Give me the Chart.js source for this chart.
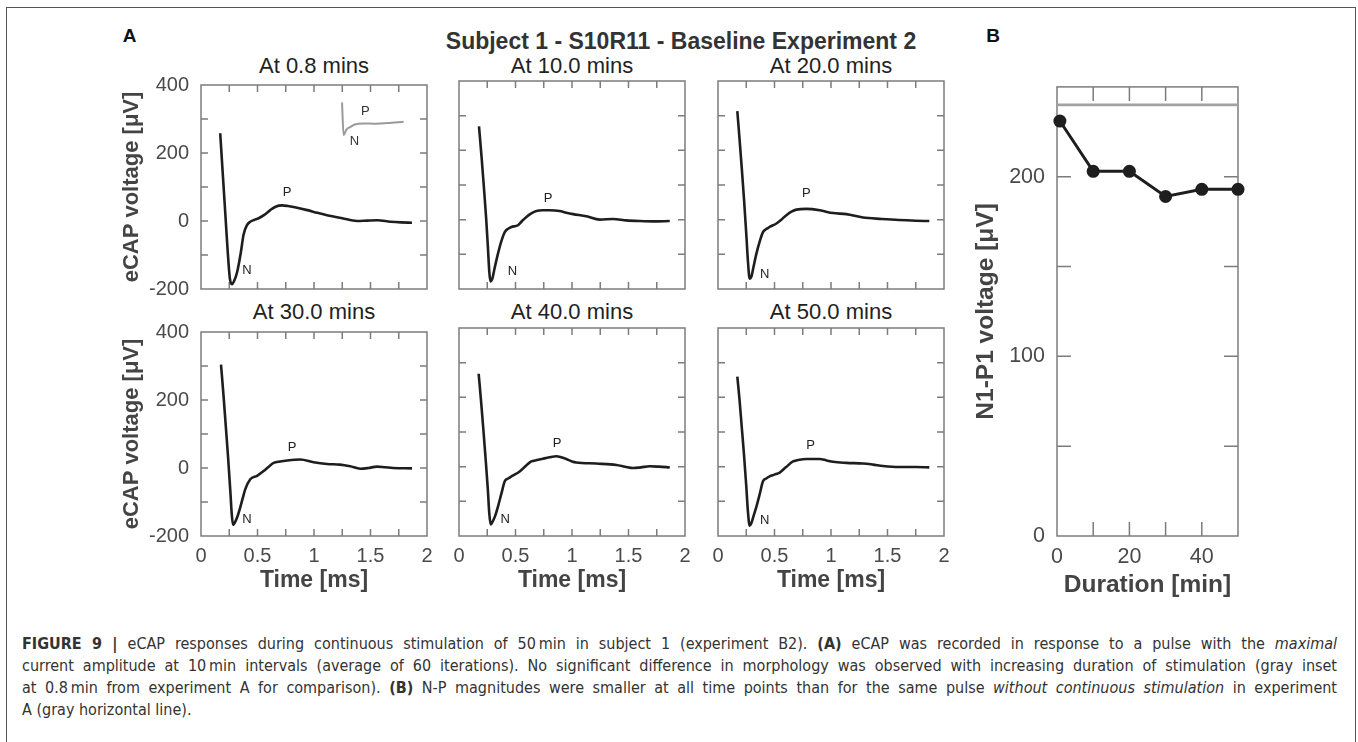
<!DOCTYPE html>
<html><head><meta charset="utf-8">
<script src="https://cdn.jsdelivr.net/npm/chart.js@4.4.1/dist/chart.umd.min.js"></script>
<style>
html,body{margin:0;padding:0;background:#fff;}
body{width:1358px;height:742px;position:relative;overflow:hidden;font-family:"Liberation Sans",Arial,sans-serif;}
.frame{position:absolute;left:6px;top:7px;width:1350px;height:800px;border:1.5px solid #555;border-bottom:none;box-sizing:border-box;}
canvas{position:absolute;}
.t{position:absolute;white-space:nowrap;color:#222;transform:translate(-50%,-50%);line-height:1;}
.cap{position:absolute;left:22px;white-space:nowrap;color:#333;font-family:"Liberation Sans Narrow","DejaVu Sans Condensed","Liberation Sans",sans-serif;font-size:16px;line-height:1;}
</style></head>
<body>
<div class="frame"></div>
<div class="t" style="left:129.5px;top:35px;font-weight:bold;font-size:19px;color:#111">A</div>
<div class="t" style="left:993px;top:35px;font-weight:bold;font-size:19px;color:#111">B</div>
<div class="t" style="left:681px;top:41px;font-weight:bold;font-size:23px;color:#333">Subject 1 - S10R11 - Baseline Experiment 2</div>
<div id="titles"></div>
<span class="cap just" style="top:636px"><b>FIGURE 9 |</b> eCAP responses during continuous stimulation of 50&thinsp;min in subject 1 (experiment B2). <b>(A)</b> eCAP was recorded in response to a pulse with the <i>maximal</i></span>
<span class="cap just" style="top:658px">current amplitude at 10&thinsp;min intervals (average of 60 iterations). No significant difference in morphology was observed with increasing duration of stimulation (gray inset</span>
<span class="cap just" style="top:680px">at 0.8&thinsp;min from experiment A for comparison). <b>(B)</b> N-P magnitudes were smaller at all time points than for the same pulse <i>without continuous stimulation</i> in experiment</span>
<span class="cap" style="top:702px">A (gray horizontal line).</span>
<script>
// ---------- DATA ----------
const panelTitles = ['At 0.8 mins','At 10.0 mins','At 20.0 mins','At 30.0 mins','At 40.0 mins','At 50.0 mins'];
const timeTickLabels = [0, 0.5, 1, 1.5, 2];
const voltTickLabels = [-200, 0, 200, 400];
const timeTickMarks = [0.25, 0.5, 0.75, 1, 1.25, 1.5, 1.75];
const voltTickMarks = [-100, 0, 100, 200, 300];

const t08 = [0.17,0.195,0.215,0.235,0.255,0.274,0.295,0.32,0.35,0.377,0.407,0.436,0.47,0.51,0.56,0.613,0.66,0.717,0.77,0.82,0.94,1.03,1.115,1.25,1.38,1.47,1.56,1.675,1.77,1.867];
const v08 = [258,127,22,-83,-168,-186,-175,-150,-98,-40,-12,-2,3,8,18,32,42,46,44,41,32,24,17,8,0,1,2,-2,-4,-5];

const t10 = [0.177,0.2,0.22,0.24,0.255,0.268,0.278,0.295,0.315,0.345,0.375,0.405,0.435,0.464,0.522,0.56,0.597,0.64,0.685,0.74,0.803,0.89,0.95,1.01,1.127,1.245,1.363,1.48,1.6,1.717,1.865];
const v10 = [269,180,95,5,-75,-150,-178,-170,-140,-98,-62,-36,-26,-21,-16,-3,8,18,25,27,27,25,20,16,10,0,2,-2,-4,-5,-4];

const t20 = [0.171,0.19,0.21,0.23,0.25,0.265,0.28,0.295,0.315,0.34,0.37,0.398,0.427,0.457,0.517,0.56,0.605,0.65,0.694,0.782,0.9,1.018,1.136,1.283,1.45,1.6,1.75,1.87];
const v20 = [313,235,150,60,-40,-120,-170,-165,-135,-98,-62,-36,-27,-21,-11,0,13,23,29,31,27,19,16,6,2,-1,-3,-4];

const t30 = [0.177,0.2,0.22,0.24,0.26,0.272,0.283,0.3,0.32,0.348,0.37,0.392,0.436,0.496,0.554,0.6,0.643,0.7,0.761,0.879,0.997,1.115,1.23,1.32,1.41,1.48,1.557,1.63,1.7,1.867];
const v30 = [304,210,120,30,-70,-135,-167,-160,-145,-115,-88,-62,-33,-23,-9,4,15,19,22,25,17,12,10,5,-2,0,4,2,0,-1];

const t40 = [0.174,0.195,0.215,0.235,0.255,0.268,0.28,0.295,0.32,0.345,0.375,0.405,0.435,0.464,0.537,0.59,0.64,0.69,0.743,0.8,0.862,0.905,0.95,1.0,1.039,1.216,1.393,1.47,1.54,1.61,1.688,1.77,1.865];
const v40 = [268,190,110,25,-65,-135,-167,-160,-142,-115,-78,-42,-34,-28,-14,2,15,19,23,27,30,27,22,15,12,9,5,0,-4,-2,1,0,-2];

const t50 = [0.171,0.19,0.21,0.23,0.25,0.265,0.28,0.295,0.315,0.34,0.37,0.398,0.427,0.457,0.5,0.546,0.6,0.664,0.72,0.782,0.9,0.96,1.018,1.136,1.283,1.37,1.46,1.6,1.75,1.87];
const v50 = [260,195,115,35,-55,-130,-170,-163,-142,-115,-78,-42,-34,-28,-23,-17,-2,15,20,22,22,18,14,11,9,6,2,-1,-1,-2];

// gray inset (experiment A at 0.8 min), drawn in panel 1 data units
const insetTime = [1.248,1.262,1.29,1.32,1.36,1.44,1.55,1.65,1.793];
const insetVolt = [349,253,270,276,284,287,286,288,292];

// Panel B
const durationMin = [0.8, 10, 20, 30, 40, 50];
const n1p1Volt = [231, 203, 203, 189, 193, 193];
const baselineExpA = 240;
const durTickLabels = [0, 20, 40];
const n1p1TickLabels = [0, 100, 200];
const durTickMarks = [10, 20, 30, 40];
const n1p1TickMarks = [50, 100, 150, 200];

// ---------- LAYOUT / STYLE ----------
const series = [[t08,v08],[t10,v10],[t20,v20],[t30,v30],[t40,v40],[t50,v50]];
const labelAnchors = [
  {n:[0.407,-146], p:[0.761,85]},
  {n:[0.472,-148], p:[0.788,61]},
  {n:[0.414,-157], p:[0.782,75]},
  {n:[0.407,-151], p:[0.805,61]},
  {n:[0.409,-151], p:[0.867,66]},
  {n:[0.414,-155], p:[0.82,61]}
];
const FONT = '"Liberation Sans", Arial, sans-serif';
const colX = [201, 459, 718], rowY = [81, 328], PW = 226, PH = 208;

function makeFramePlugin(o) {
  return {
    id: 'frameTicks',
    beforeDatasetsDraw(chart) {
      const {ctx, chartArea: a, scales: {x, y}} = chart;
      ctx.save();
      ctx.strokeStyle = o.color; ctx.lineWidth = o.width;
      ctx.strokeRect(a.left, a.top, a.right - a.left, a.bottom - a.top);
      ctx.beginPath();
      o.xMarks.forEach(v => { const px = x.getPixelForValue(v);
        ctx.moveTo(px, a.bottom); ctx.lineTo(px, a.bottom - o.len);
        ctx.moveTo(px, a.top); ctx.lineTo(px, a.top + o.len); });
      o.yMarks.forEach(v => { const py = y.getPixelForValue(v);
        ctx.moveTo(a.left, py); ctx.lineTo(a.left + o.len, py);
        ctx.moveTo(a.right, py); ctx.lineTo(a.right - o.len, py); });
      ctx.stroke(); ctx.restore();
    },
    afterDatasetsDraw(chart) {
      if (!o.labels) return;
      const {ctx, scales: {x, y}} = chart;
      ctx.save();
      ctx.font = '13px ' + FONT; ctx.textAlign = 'center'; ctx.textBaseline = 'middle';
      o.labels.forEach(l => { ctx.fillStyle = l.c; ctx.fillText(l.t, x.getPixelForValue(l.x), y.getPixelForValue(l.y)); });
      ctx.restore();
    }
  };
}

function makeChart(cfg) {
  const c = document.createElement('canvas');
  c.width = cfg.w + cfg.padL + cfg.padR; c.height = cfg.h + cfg.padT + cfg.padB;
  c.style.left = (cfg.x - cfg.padL) + 'px'; c.style.top = (cfg.y - cfg.padT) + 'px';
  c.style.width = c.width + 'px'; c.style.height = c.height + 'px';
  document.body.appendChild(c);
  new Chart(c, {
    type: 'line',
    data: { datasets: cfg.datasets },
    options: {
      responsive: false, animation: false, devicePixelRatio: 1,
      layout: { padding: { left: 0, top: cfg.padT, right: cfg.padR, bottom: 0 } },
      plugins: { legend: {display: false}, tooltip: {enabled: false} },
      elements: { point: { radius: 0 } },
      scales: {
        x: { type: 'linear', min: cfg.xMin, max: cfg.xMax,
          afterFit: s => { s.height = cfg.padB; },
          afterBuildTicks: s => { s.ticks = cfg.xTicks.map(v => ({value: v})); },
          grid: {display: false, drawTicks: false, tickLength: 0}, border: {display: false},
          ticks: {display: cfg.showX, padding: cfg.xTickPad, autoSkip: false, maxRotation: 0, color: '#4a4a4a', font: {family: FONT, size: cfg.tickSize}, callback: v => String(v)},
          title: {display: !!cfg.xTitle, text: cfg.xTitle, color: '#444', font: {family: FONT, size: cfg.titleSize, weight: 'bold'}, padding: {top: 0, bottom: cfg.xTitlePad}}
        },
        y: { type: 'linear', min: cfg.yMin, max: cfg.yMax,
          afterFit: s => { s.width = cfg.padL; },
          afterBuildTicks: s => { s.ticks = cfg.yTicks.map(v => ({value: v})); },
          grid: {display: false, drawTicks: false, tickLength: 0}, border: {display: false},
          ticks: {display: cfg.showY, padding: 12, autoSkip: false, color: '#4a4a4a', font: {family: FONT, size: cfg.tickSize}, callback: v => String(v)},
          title: {display: !!cfg.yTitle, text: cfg.yTitle, color: '#444', font: {family: FONT, size: cfg.yTitleSize || cfg.titleSize, weight: 'bold'}, padding: {top: cfg.yTitlePad, bottom: 0}}
        }
      }
    },
    plugins: [makeFramePlugin(cfg.frame)]
  });
}

const titlesDiv = document.getElementById('titles');
series.forEach((s, i) => {
  const row = Math.floor(i / 3), col = i % 3;
  const datasets = [];
  if (i === 0) {
    datasets.push({ data: insetTime.map((t, k) => ({x: t, y: insetVolt[k]})), borderColor: '#9a9a9a', borderWidth: 2, cubicInterpolationMode: 'monotone', pointRadius: 0 });
  }
  datasets.push({ data: s[0].map((t, k) => ({x: t, y: s[1][k]})), borderColor: '#1e1e1e', borderWidth: 2.6, cubicInterpolationMode: 'monotone', pointRadius: 0 });
  const labels = [
    {t: 'N', x: labelAnchors[i].n[0], y: labelAnchors[i].n[1], c: '#222'},
    {t: 'P', x: labelAnchors[i].p[0], y: labelAnchors[i].p[1], c: '#222'}
  ];
  if (i === 0) { labels.push({t: 'N', x: 1.358, y: 235, c: '#333'}, {t: 'P', x: 1.455, y: 322, c: '#333'}); }
  makeChart({
    x: colX[col], y: rowY[row], w: PW, h: PH, padL: 100, padT: 20, padR: 20, padB: 70,
    xMin: 0, xMax: 2, yMin: -200, yMax: 400,
    xTicks: timeTickLabels, yTicks: voltTickLabels,
    showX: row === 1, showY: col === 0, tickSize: 20, titleSize: 23, yTitleSize: 22,
    xTickPad: 8, xTitle: row === 1 ? 'Time [ms]' : '', xTitlePad: 12,
    yTitle: col === 0 ? 'eCAP voltage [\u03bcV]' : '', yTitlePad: 18,
    datasets,
    frame: {color: '#7c7c7c', width: 1.5, len: 7, xMarks: timeTickMarks, yMarks: voltTickMarks, labels}
  });
  const d = document.createElement('div');
  d.className = 't';
  d.style.cssText = `left:${colX[col] + PW / 2}px;top:${row === 0 ? 65.5 : 311.5}px;font-size:22px;color:#222`;
  d.textContent = panelTitles[i];
  titlesDiv.appendChild(d);
});

makeChart({
  x: 1057, y: 82, w: 181, h: 454, padL: 100, padT: 20, padR: 30, padB: 70,
  xMin: 0, xMax: 50, yMin: 0, yMax: 250,
  xTicks: durTickLabels, yTicks: n1p1TickLabels,
  showX: true, showY: true, tickSize: 21.5, titleSize: 24.5,
  xTickPad: 8, xTitle: 'Duration [min]', xTitlePad: 6,
  yTitle: 'N1-P1 voltage [\u03bcV]', yTitlePad: 15,
  datasets: [
    { data: [{x: 0, y: baselineExpA}, {x: 50, y: baselineExpA}], borderColor: '#a2a2a2', borderWidth: 2.6, pointRadius: 0, clip: false },
    { data: durationMin.map((d, k) => ({x: d, y: n1p1Volt[k]})), borderColor: '#1e1e1e', borderWidth: 3, pointRadius: 6.5, pointBackgroundColor: '#1e1e1e', pointBorderWidth: 0, tension: 0, clip: false }
  ],
  frame: {color: '#7c7c7c', width: 1.5, len: 14, xMarks: durTickMarks, yMarks: n1p1TickMarks}
});

// justify caption lines
document.querySelectorAll('.cap.just').forEach(el => {
  const target = 1315;
  const w = el.getBoundingClientRect().width;
  const spaces = (el.textContent.match(/ /g) || []).length;
  el.style.wordSpacing = ((target - w) / spaces) + 'px';
});
</script>
</body></html>
